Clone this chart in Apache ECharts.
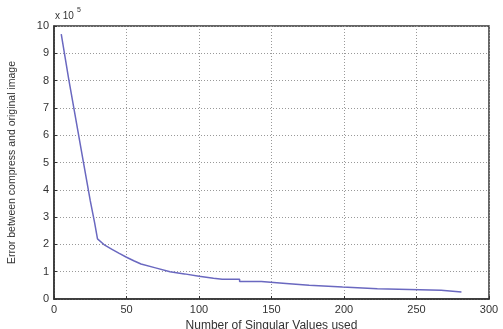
<!DOCTYPE html>
<html>
<head>
<meta charset="utf-8">
<script src="https://cdn.jsdelivr.net/npm/echarts@6/dist/echarts.min.js"></script>
<style>
  html, body {margin: 0; padding: 0; background: #fff;}
  #chart {width: 503px; height: 329px;}
</style>
</head>
<body>
<div id="chart"></div>
<script>
// number of singular values used vs. reconstruction error (x 10^5)
var singularValues = [5, 10, 15, 20, 25, 28, 30, 35, 40, 45, 50, 55, 60, 70, 80, 90, 100, 110, 116, 128, 128, 143, 143, 160, 160, 176, 176, 199, 199, 223, 223, 267, 267, 281];
var errorValues = [9.7, 8.1, 6.6, 5.1, 3.6, 2.8, 2.2, 1.97, 1.82, 1.67, 1.53, 1.4, 1.28, 1.14, 1.0, 0.92, 0.83, 0.76, 0.72, 0.72, 0.64, 0.64, 0.57, 0.57, 0.5, 0.5, 0.44, 0.44, 0.38, 0.38, 0.32, 0.32, 0.26, 0.26];
var xTicks = [0, 50, 100, 150, 200, 250, 300];
var yTicks = [0, 1, 2, 3, 4, 5, 6, 7, 8, 9, 10];

var myChart = echarts.init(document.getElementById('chart'));
var font = 'Liberation Sans, Arial, sans-serif';

var points = singularValues.map(function (x, i) { return [x, errorValues[i]]; });

myChart.setOption({
  animation: false,
  grid: {
    left: 54, right: 14, top: 26, bottom: 30,
    outerBoundsMode: 'none', containLabel: false,
    show: true, borderColor: '#333', borderWidth: 1.5
  },
  xAxis: {
    type: 'value',
    min: xTicks[0], max: xTicks[xTicks.length - 1], interval: 50,
    axisLine: {show: true, lineStyle: {color: '#333', width: 1.5}},
    axisTick: {show: true, inside: true, length: 3, lineStyle: {color: '#333'}},
    axisLabel: {color: '#333', fontSize: 11, fontFamily: font, margin: 5},
    splitLine: {show: true, lineStyle: {color: '#999', type: [1, 2]}},
    name: 'Number of Singular Values used',
    nameLocation: 'middle', nameGap: 19,
    nameTextStyle: {color: '#333', fontSize: 12, fontFamily: font}
  },
  yAxis: {
    type: 'value',
    min: yTicks[0], max: yTicks[yTicks.length - 1], interval: 1,
    axisLine: {show: true, lineStyle: {color: '#333', width: 1.5}},
    axisTick: {show: true, inside: true, length: 3, lineStyle: {color: '#333'}},
    axisLabel: {color: '#333', fontSize: 11, fontFamily: font, margin: 5},
    splitLine: {show: true, lineStyle: {color: '#999', type: [1, 2]}},
    name: 'Error between compress and original image',
    nameLocation: 'middle', nameGap: 36,
    nameTextStyle: {color: '#333', fontSize: 10.5, fontFamily: font}
  },
  graphic: [{
    type: 'text', left: 55, top: 11,
    style: {text: 'x 10', fill: '#333', font: '10px ' + font}
  }, {
    type: 'text', left: 77, top: 7,
    style: {text: '5', fill: '#333', font: '7px ' + font}
  }],
  series: [{
    type: 'line',
    data: points,
    symbol: 'none',
    lineStyle: {color: '#6a68c0', width: 1.5}
  }]
});
</script>
</body>
</html>
